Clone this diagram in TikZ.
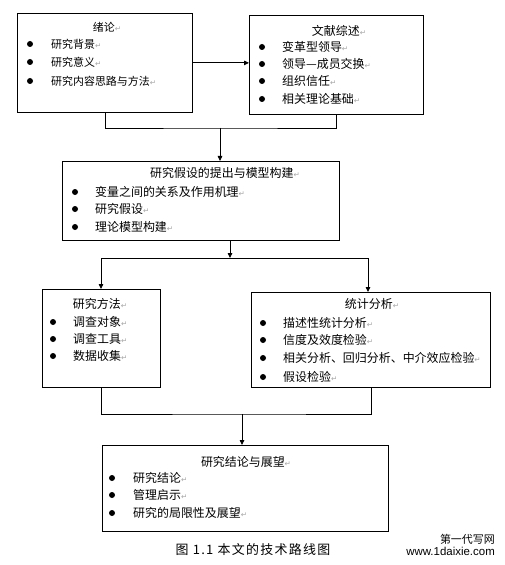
\documentclass[tikz,border=0pt]{standalone}
\usepackage{fontspec}
\setmainfont{Noto Sans CJK SC}
\newfontfamily\dejavu{DejaVu Sans}
\newfontfamily\libsans{Liberation Sans}
\newfontfamily\capfont[LetterSpace=10]{Noto Sans CJK SC}
\usetikzlibrary{arrows.meta}
\newcommand{\rtm}{{\color{black!35}\dejavu\fontsize{7.5}{7.5}\selectfont ↵}}
\tikzset{
  box/.style={draw, line width=0.8bp, rectangle, inner sep=0pt, anchor=north west},
  txt/.style={inner sep=0pt, anchor=west, font=\fontsize{12}{12}\selectfont},
  ttl/.style={inner sep=0pt, anchor=center, font=\fontsize{12}{12}\selectfont},
  bul/.style={fill=black},
  con/.style={line width=0.8bp},
  arr/.style={line width=0.8bp, -{Triangle[length=5bp,width=4.5bp]}}
}
\begin{document}
\begin{tikzpicture}[x=1bp,y=-1bp]
\useasboundingbox (0,0) rectangle (505,565);
% boxes
\node[box, minimum width=175bp, minimum height=99bp] (b1) at (17,13) {};
\node[box, minimum width=174bp, minimum height=99bp] (b2) at (249,15) {};
\node[box, minimum width=277bp, minimum height=79bp] (b3) at (62,161) {};
\node[box, minimum width=118bp, minimum height=98bp] (b4) at (42,289) {};
\node[box, minimum width=239bp, minimum height=95bp] (b5) at (251,292) {};
\node[box, minimum width=286bp, minimum height=86bp] (b6) at (102,445) {};
% box 1
\node[ttl, font=\fontsize{11}{11}\selectfont] (t1) at (107,27) {绪论\rtm};
\node[txt, font=\fontsize{11}{11}\selectfont] (t1a) at (51,44) {研究背景\rtm};
\node[txt, font=\fontsize{11}{11}\selectfont] (t1b) at (51,62) {研究意义\rtm};
\node[txt, font=\fontsize{11}{11}\selectfont] (t1c) at (51,81) {研究内容思路与方法\rtm};
\foreach \yy in {44,62,81} \fill[bul] (30,\yy) circle (3bp);
% box 2
\node[ttl] (t2) at (339,31) {文献综述\rtm};
\node[txt] (t2a) at (282,47) {变革型领导\rtm};
\node[txt] (t2b) at (282,64) {领导—成员交换\rtm};
\node[txt] (t2c) at (282,81) {组织信任\rtm};
\node[txt] (t2d) at (282,99) {相关理论基础\rtm};
\foreach \yy in {47,64,81,99} \fill[bul] (262,\yy) circle (3bp);
% box 3
\node[ttl] (t3) at (225,173) {研究假设的提出与模型构建\rtm};
\node[txt] (t3a) at (95,192) {变量之间的关系及作用机理\rtm};
\node[txt] (t3b) at (95,209) {研究假设\rtm};
\node[txt] (t3c) at (95,227) {理论模型构建\rtm};
\foreach \yy in {192,209,227} \fill[bul] (75,\yy) circle (3bp);
% box 4
\node[ttl] (t4) at (100,304) {研究方法\rtm};
\node[txt] (t4a) at (73,322) {调查对象\rtm};
\node[txt] (t4b) at (73,339) {调查工具\rtm};
\node[txt] (t4c) at (73,356) {数据收集\rtm};
\foreach \yy in {322,339,356} \fill[bul] (53,\yy) circle (3bp);
% box 5
\node[ttl] (t5) at (372,304) {统计分析\rtm};
\node[txt] (t5a) at (283,323) {描述性统计分析\rtm};
\node[txt] (t5b) at (283,340) {信度及效度检验\rtm};
\node[txt] (t5c) at (283,358) {相关分析、回归分析、中介效应检验\rtm};
\node[txt] (t5d) at (283,377) {假设检验\rtm};
\foreach \yy in {323,340,358,377} \fill[bul] (263,\yy) circle (3bp);
% box 6
\node[ttl] (t6) at (246,462) {研究结论与展望\rtm};
\node[txt] (t6a) at (133,478) {研究结论\rtm};
\node[txt] (t6b) at (133,495) {管理启示\rtm};
\node[txt] (t6c) at (133,513) {研究的局限性及展望\rtm};
\foreach \yy in {478,495,513} \fill[bul] (112,\yy) circle (3bp);
% junction coordinates
\coordinate (j1) at (220,128);
\coordinate (j2) at (230,258);
\coordinate (j2l) at (101,258);
\coordinate (j2r) at (368,258);
\coordinate (j3) at (242,414);
% connectors
\draw[arr] (b1.east) -- (b1.east -| b2.west);
\draw[con] (b1.south) |- (j1) -| (b2.south);
\draw[arr] (j1) -- (j1 |- b3.north);
\draw[arr] (j2 |- b3.south) -- (j2);
\draw[con] (j2l) -- (j2r);
\draw[arr] (j2l) -- (j2l |- b4.north);
\draw[arr] (j2r) -- (j2r |- b5.north);
\draw[con] (b4.south) |- (j3) -| (b5.south);
\draw[arr] (j3) -- (j3 |- b6.north);
% caption and watermark
\node[inner sep=0pt, font=\capfont\fontsize{13}{13}\selectfont] (cap) at (253,550) {图 1.1 本文的技术路线图};
\node[inner sep=0pt, anchor=east, font=\fontsize{11}{11}\selectfont] (wm1) at (495,539) {第一代写网};
\node[inner sep=0pt, anchor=east, font=\libsans\fontsize{11.5}{11.5}\selectfont] (wm2) at (495,551) {www.1daixie.com};
\end{tikzpicture}
\end{document}
